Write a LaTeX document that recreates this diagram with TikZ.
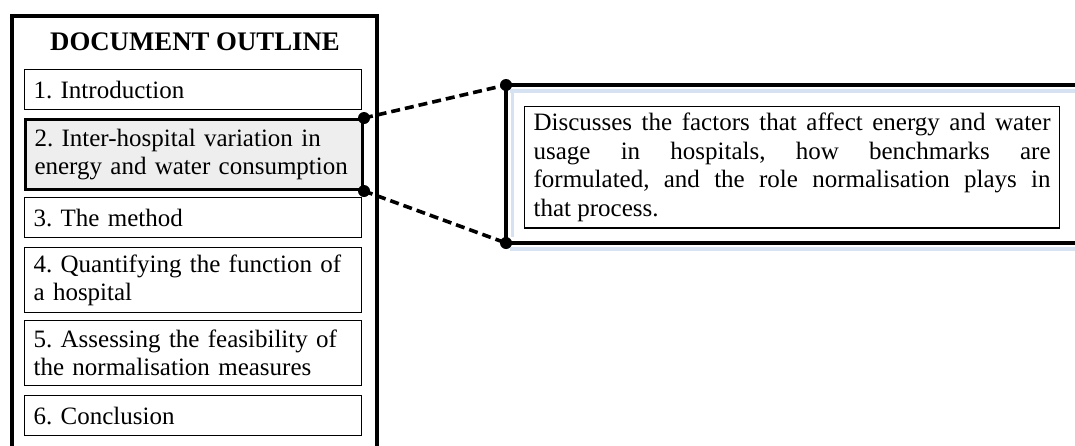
\documentclass[tikz,border=0pt]{standalone}
\usepackage{fontspec}
\setmainfont{Liberation Serif}
\definecolor{shadowblue}{RGB}{214,226,242}
\definecolor{itemgray}{RGB}{238,238,238}
\tikzset{
  frameline/.style={line width=2.3pt},
  itembox/.style={draw, line width=0.6pt, anchor=north west, minimum width=168.5pt,
    text width=159.5pt, inner xsep=4.5pt, inner ysep=2pt, align=left,
    font=\fontsize{12.5}{14}\selectfont\frenchspacing},
  dashline/.style={line width=1.8pt, dash pattern=on 4.5pt off 2.5pt},
  dot/.style={fill=black},
  descbox/.style={draw, line width=0.6pt, anchor=north west, minimum width=267.5pt,
    minimum height=58.5pt, text width=258.5pt, inner xsep=4.5pt, align=justify,
    font=\fontsize{12.5}{14.2}\selectfont\frenchspacing},
}
\begin{document}
\begin{tikzpicture}[x=0.5pt,y=-0.5pt]
\useasboundingbox (0,0) rectangle (1075,445);
\clip (0,0) rectangle (1075,445);
% outline frame
\draw[frameline] (12,470) -- (12,16) -- (377,16) -- (377,470);
\node[font=\fontsize{13.4}{15}\bfseries\selectfont] (title) at (195,42) {DOCUMENT OUTLINE};
\node[itembox, minimum height=20pt] (i1) at (24,69) {1. Introduction};
\node[itembox, minimum height=35pt, fill=itemgray, line width=1.5pt] (i2) at (24,118) {2. Inter-hospital variation in\\energy and water consumption};
\node[itembox, minimum height=20pt] (i3) at (24,197) {3. The method};
\node[itembox, minimum height=32.5pt] (i4) at (24,247) {4. Quantifying the function of\\a hospital};
\node[itembox, minimum height=32.5pt] (i5) at (24,320) {5. Assessing the feasibility of\\the normalisation measures};
\node[itembox, minimum height=20pt] (i6) at (24,395) {6. Conclusion};
% detail frame
\coordinate (c1) at (506,85);
\coordinate (c2) at (506,243);
\draw[shadowblue, line width=2pt] (510,91) -- (1080,91);
\draw[shadowblue, line width=2pt] (510,249) -- (1080,249);
\draw[shadowblue, line width=1.5pt] (512,91) -- (512,237);
\draw[frameline] (1080,85) -- (c1) -- (c2) -- (1080,243);
\node[descbox] (desc) at (524,106) {Discusses the factors that affect energy and water\linebreak usage in hospitals, how benchmarks are\linebreak formulated, and the role normalisation plays in\linebreak that process.};
% connectors
\draw[dashline] (i2.north east) -- (c1);
\draw[dashline] (i2.south east) -- (c2);
\fill[dot] (i2.north east) circle (3pt);
\fill[dot] (i2.south east) circle (3pt);
\fill[dot] (c1) circle (3pt);
\fill[dot] (c2) circle (3pt);
\end{tikzpicture}
\end{document}
